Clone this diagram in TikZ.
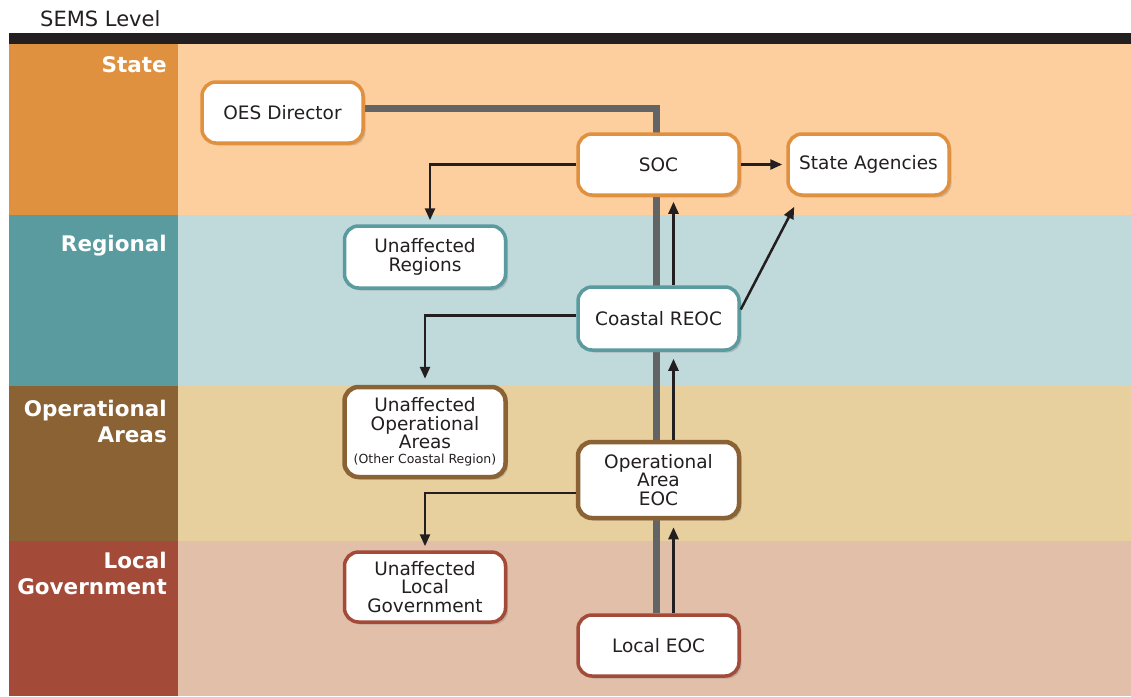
\documentclass[tikz,border=0pt]{standalone}
\usepackage{fontspec}
\setmainfont{DejaVu Sans}
\usetikzlibrary{shadows,arrows.meta,calc}
\definecolor{stL}{HTML}{E09140}
\definecolor{stR}{HTML}{FDCF9E}
\definecolor{rgL}{HTML}{5A9BA0}
\definecolor{rgR}{HTML}{C0D9DA}
\definecolor{opL}{HTML}{8A6233}
\definecolor{opR}{HTML}{E8CF9E}
\definecolor{lcL}{HTML}{A34A38}
\definecolor{lcR}{HTML}{E2BFA9}
\definecolor{txt}{HTML}{231F20}
\definecolor{grayline}{HTML}{636466}
\pgfdeclarelayer{bg}
\pgfdeclarelayer{mid}
\pgfsetlayers{bg,mid,main}
\begin{document}
\begin{tikzpicture}[x=1pt,y=-1pt,
  box/.style={draw, line width=3.5pt, fill=white, rounded corners=14pt,
    minimum width=161pt, minimum height=61pt, align=center, inner sep=2pt,
    font=\fontsize{18.5}{18.5}\selectfont, text=txt,
    drop shadow={shadow xshift=2.5pt, shadow yshift=-2.5pt, opacity=0.35}},
  arr/.style={draw=txt, line width=2.5pt, -{Triangle[length=12pt,width=10pt]}},
  lab/.style={text=white, font=\bfseries\fontsize{21.5}{26}\selectfont, align=right, inner sep=0pt}]
\useasboundingbox (0,0) rectangle (1131,696);
\begin{pgfonlayer}{bg}
\fill[txt] (9,33) rectangle (1131,44);
\fill[stL] (9,44) rectangle (178,215);
\fill[stR] (178,44) rectangle (1131,215);
\fill[rgL] (9,215) rectangle (178,386);
\fill[rgR] (178,215) rectangle (1131,386);
\fill[opL] (9,386) rectangle (178,541);
\fill[opR] (178,386) rectangle (1131,541);
\fill[lcL] (9,541) rectangle (178,696);
\fill[lcR] (178,541) rectangle (1131,696);
\end{pgfonlayer}
\node[anchor=base west, inner sep=0pt, text=txt, font=\fontsize{21}{24}\selectfont] (title) at (40,26) {SEMS Level};
\node[lab, anchor=base east] (lstate) at (167,72) {State};
\node[lab, anchor=base east] (lreg) at (167,251) {Regional};
\node[lab, anchor=base east] (lop) at (167,442) {Operational\\Areas};
\node[lab, anchor=base east] (lloc) at (167,594) {Local\\Government};

\node[box, draw=stL] (oes) at (282.5,112.5) {OES Director};
\node[box, draw=stL] (soc) at (658.5,164.5) {SOC};
\node[box, draw=stL] (sa) at (868.5,164.5) {State Agencies};
\node[box, draw=rgL, minimum height=62pt] (ureg) at (425,257) {Unaffected\\Regions};
\node[box, draw=rgL, minimum height=63pt] (reoc) at (658.5,318.5) {Coastal REOC};
\node[box, draw=opL, line width=4.5pt, minimum height=90pt] (uop) at (425,432) {Unaffected\\Operational\\Areas\\[-4pt]{\fontsize{12.5}{14}\selectfont (Other Coastal Region)}};
\node[box, draw=opL, line width=4.5pt, minimum height=76pt] (opeoc) at (658.5,480) {Operational\\Area\\EOC};
\node[box, draw=lcL, minimum height=70pt] (uloc) at (425,587) {Unaffected\\Local\\Government};
\node[box, draw=lcL] (leoc) at (658.5,645.5) {Local EOC};

\begin{pgfonlayer}{mid}
\draw[grayline, line width=7pt] ([yshift=4pt]oes.east) -| ([xshift=-2pt]leoc.north);
\end{pgfonlayer}

\draw[arr, shorten >=7pt] ([xshift=15pt]leoc.north) -- ([xshift=15pt]opeoc.south);
\draw[arr, shorten >=7pt] ([xshift=15pt]opeoc.north) -- ([xshift=15pt]reoc.south);
\draw[arr, shorten >=5pt] ([xshift=15pt]reoc.north) -- ([xshift=15pt]soc.south);
\draw[arr, shorten >=4pt] (soc.east) -- (sa.west);
\draw[arr] ([yshift=9pt]reoc.east) -- ($(sa.south west)+(8,10)$);
\draw[arr, shorten >=4pt] (soc.west) -| ([xshift=5pt]ureg.north);
\draw[arr, shorten >=6pt] ([yshift=3pt]reoc.west) -| (uop.north);
\draw[arr, shorten >=4pt] ([yshift=-13pt]opeoc.west) -| (uloc.north);
\end{tikzpicture}
\end{document}
